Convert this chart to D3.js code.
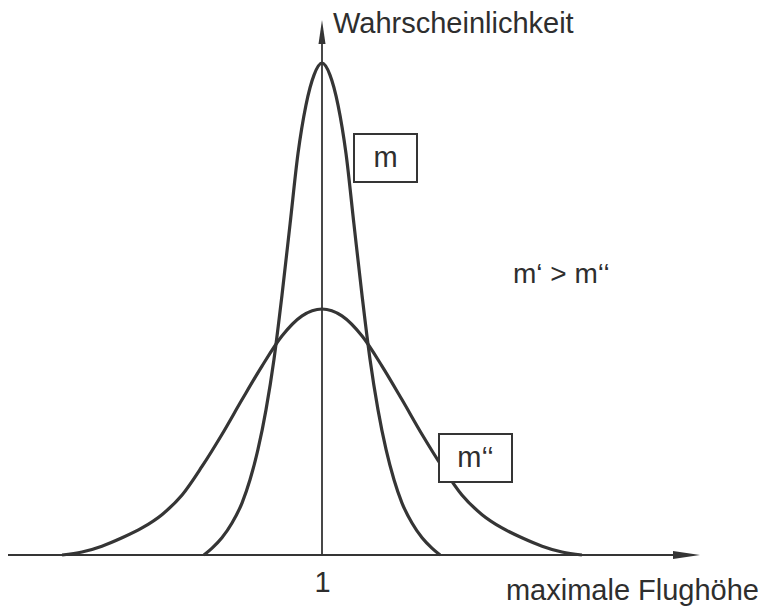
<!DOCTYPE html>
<html>
<head>
<meta charset="utf-8">
<script src="https://cdn.jsdelivr.net/npm/d3@7"></script>
<style>
  html, body { margin: 0; padding: 0; background: #fff; }
  svg { display: block; }
  text { font-family: "Liberation Sans", Arial, sans-serif; fill: #2e2e2e; }
</style>
</head>
<body>
<svg id="chart" width="762" height="607"></svg>
<script>
// ---- data ----
const yAxisTitle = "Wahrscheinlichkeit";
const xAxisTitle = "maximale Flughöhe";
const xTickValues = [1];
const xTickLabels = ["1"];
const curveNames = ["m", "m‘‘"];
const relationText = "m‘ > m‘‘";

// narrow distribution (m)
const narrowX = [0.508, 0.542, 0.583, 0.625, 0.667, 0.7, 0.733, 0.767, 0.8, 0.833, 0.867, 0.9, 0.933, 0.967, 1.0,
                 1.033, 1.067, 1.1, 1.133, 1.167, 1.2, 1.233, 1.267, 1.3, 1.333, 1.375, 1.417, 1.458, 1.492];
const narrowY = [0, 0.014, 0.035, 0.065, 0.106, 0.153, 0.214, 0.296, 0.398, 0.527, 0.673, 0.816, 0.914, 0.976, 1.0,
                 0.976, 0.914, 0.816, 0.673, 0.527, 0.398, 0.296, 0.214, 0.153, 0.106, 0.065, 0.035, 0.014, 0];

// wide distribution (m'')
const wideX = [-0.083, 0.0, 0.083, 0.167, 0.25, 0.333, 0.417, 0.5, 0.583, 0.667, 0.75, 0.833, 0.917, 1.0,
               1.083, 1.167, 1.25, 1.333, 1.417, 1.5, 1.583, 1.667, 1.75, 1.833, 1.917, 2.0, 2.083];
const wideY = [0, 0.006, 0.018, 0.035, 0.055, 0.082, 0.122, 0.18, 0.245, 0.316, 0.384, 0.445, 0.486, 0.5,
               0.486, 0.445, 0.384, 0.316, 0.245, 0.18, 0.122, 0.082, 0.055, 0.035, 0.018, 0.006, 0];

// ---- drawing ----
const ink = "#353535";
const svg = d3.select("#chart");

const x = d3.scaleLinear().domain([0, 2]).range([82, 562]);
const y = d3.scaleLinear().domain([0, 1]).range([555, 63]);

const xMin = x.invert(8), xMax = x.invert(700);
const yTop = y.invert(20);

// x axis line + arrow
svg.append("line")
  .attr("x1", x(xMin)).attr("x2", x(xMax) - 20)
  .attr("y1", y(0)).attr("y2", y(0))
  .attr("stroke", ink).attr("stroke-width", 2);
svg.append("path")
  .attr("d", `M${x(xMax)},${y(0)} L${x(xMax) - 27},${y(0) - 4} L${x(xMax) - 27},${y(0) + 4} Z`)
  .attr("fill", ink);

// y axis line (at value 1) + arrow
svg.append("line")
  .attr("x1", x(1)).attr("x2", x(1))
  .attr("y1", y(0)).attr("y2", y(yTop) + 18)
  .attr("stroke", ink).attr("stroke-width", 1.8);
svg.append("path")
  .attr("d", `M${x(1)},${y(yTop)} L${x(1) - 3.5},${y(yTop) + 24} L${x(1) + 3.5},${y(yTop) + 24} Z`)
  .attr("fill", ink);

// x tick via d3 axis
const xAxis = d3.axisBottom(x)
  .tickValues(xTickValues)
  .tickFormat((d, i) => xTickLabels[i])
  .tickSize(0)
  .tickPadding(16);
const gx = svg.append("g").attr("transform", `translate(0,${y(0)})`).call(xAxis);
gx.select(".domain").remove();
gx.selectAll("text")
  .style("font-family", '"Liberation Sans", Arial, sans-serif')
  .style("font-size", "29px")
  .attr("fill", "#2e2e2e");

// curves
const line = d3.line()
  .x(d => x(d[0]))
  .y(d => y(d[1]))
  .curve(d3.curveMonotoneX);

const narrow = narrowX.map((v, i) => [v, narrowY[i]]);
const wide = wideX.map((v, i) => [v, wideY[i]]);

[wide, narrow].forEach(data => {
  svg.append("path")
    .datum(data)
    .attr("d", line)
    .attr("fill", "none")
    .attr("stroke", ink)
    .attr("stroke-width", 3.2)
    .attr("stroke-linejoin", "round");
});

// axis titles
svg.append("text")
  .attr("x", 333).attr("y", 33)
  .style("font-size", "29px")
  .text(yAxisTitle);
svg.append("text")
  .attr("x", 759).attr("y", 600)
  .attr("text-anchor", "end")
  .style("font-size", "29px")
  .text(xAxisTitle);

// labels in boxes
const boxes = [
  { name: curveNames[0], x0: 354, y0: 134, w: 63, h: 48 },
  { name: curveNames[1], x0: 439, y0: 434, w: 73, h: 48 }
];
boxes.forEach(b => {
  svg.append("rect")
    .attr("x", b.x0).attr("y", b.y0)
    .attr("width", b.w).attr("height", b.h)
    .attr("fill", "#fff")
    .attr("stroke", ink).attr("stroke-width", 2);
  svg.append("text")
    .attr("x", b.x0 + b.w / 2).attr("y", b.y0 + 33)
    .attr("text-anchor", "middle")
    .style("font-size", "29px")
    .text(b.name);
});

// relation text
svg.append("text")
  .attr("x", 513).attr("y", 283)
  .style("font-size", "28px")
  .text(relationText);
</script>
</body>
</html>
